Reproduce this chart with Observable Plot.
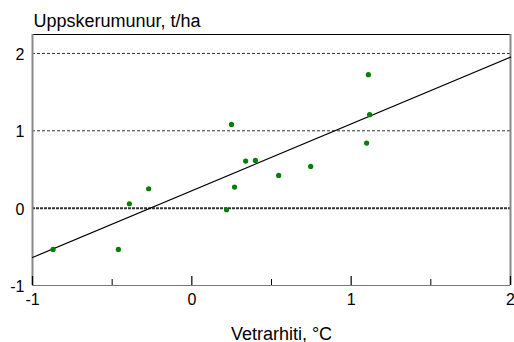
<!DOCTYPE html>
<html>
<head>
<meta charset="utf-8">
<script src="https://cdn.jsdelivr.net/npm/d3@7"></script>
<script src="https://cdn.jsdelivr.net/npm/@observablehq/plot@0.6"></script>
<style>
  html, body { margin: 0; padding: 0; background: #fff; }
  svg { display: block; }
</style>
</head>
<body>
<div id="chart"></div>
<script>
// Data
const tempX = [-0.871, -0.461, -0.392, -0.271, 0.218, 0.249, 0.268, 0.338, 0.399, 0.545, 0.746, 1.097, 1.108, 1.116];
const yieldY = [-0.534, -0.534, 0.057, 0.251, -0.021, 1.083, 0.272, 0.608, 0.617, 0.423, 0.539, 0.841, 1.726, 1.208];
const fitX = [-1, 2];
const fitY = [-0.638, 1.953];
const xMajorTicks = [-1, 0, 1, 2];
const xMinorTicks = [-0.5, 0.5, 1.5];
const yTicks = [-1, 0, 1, 2];
const xDomain = [-1, 2];
const yDomain = [-1, 2.245];
const titleText = "Uppskerumunur, t/ha";
const xLabelText = "Vetrarhiti, °C";

const points = tempX.map((x, i) => ({x, y: yieldY[i]}));
const fit = fitX.map((x, i) => ({x, y: fitY[i]}));

const W = 514, H = 342;
const mL = 32, mR = 4, mT = 34, mB = 57;
const frameH = H - mT - mB;

const chart = Plot.plot({
  width: W,
  height: H,
  marginLeft: mL,
  marginRight: mR,
  marginTop: mT,
  marginBottom: mB,
  style: {fontFamily: "'Liberation Sans', Arial, sans-serif", background: "white", overflow: "visible"},
  x: {domain: xDomain, axis: null},
  y: {domain: yDomain, axis: null},
  marks: [
    // grid lines
    Plot.ruleY([1, 2], {y: d => d, stroke: "#333", strokeWidth: 1, strokeDasharray: "3,2"}),
    Plot.ruleY([0], {y: d => d, stroke: "#333", strokeWidth: 2, strokeDasharray: "3,1"}),
    // frame edges
    Plot.ruleY([yDomain[1]], {y: d => d, stroke: "black", strokeWidth: 1}),
    Plot.ruleY([yDomain[0]], {y: d => d, stroke: "#777", strokeWidth: 1.2}),
    Plot.ruleX([xDomain[0], xDomain[1]], {x: d => d, stroke: "#888", strokeWidth: 2}),
    // x ticks (inward)
    Plot.ruleX(xMajorTicks, {x: d => d, insetTop: frameH - 9, stroke: "black", strokeWidth: 1.2}),
    Plot.ruleX(xMinorTicks, {x: d => d, insetTop: frameH - 6, stroke: "black", strokeWidth: 1}),
    // x tick labels
    Plot.text(xMajorTicks, {x: d => d, frameAnchor: "bottom", dy: 19, text: d => String(d), fontSize: 16, fill: "black"}),
    // y tick labels
    Plot.text(yTicks, {y: d => d, frameAnchor: "left", dx: -8, dy: 1.5, textAnchor: "end", text: d => String(d), fontSize: 16, fill: "black"}),
    // regression line
    Plot.line(fit, {x: "x", y: "y", stroke: "black", strokeWidth: 1.2}),
    // points
    Plot.dot(points, {x: "x", y: "y", r: 2.6, fill: "#008000", stroke: "none"}),
    // title
    Plot.text([titleText], {frameAnchor: "top-left", dx: 1, dy: -7.5, lineAnchor: "bottom", textAnchor: "start", text: d => d, fontSize: 18, fill: "black"}),
    // x label
    Plot.text([xLabelText], {frameAnchor: "bottom", dx: 10, dy: 54, lineAnchor: "bottom", text: d => d, fontSize: 18, fill: "black"})
  ]
});
document.getElementById("chart").appendChild(chart);
</script>
</body>
</html>
